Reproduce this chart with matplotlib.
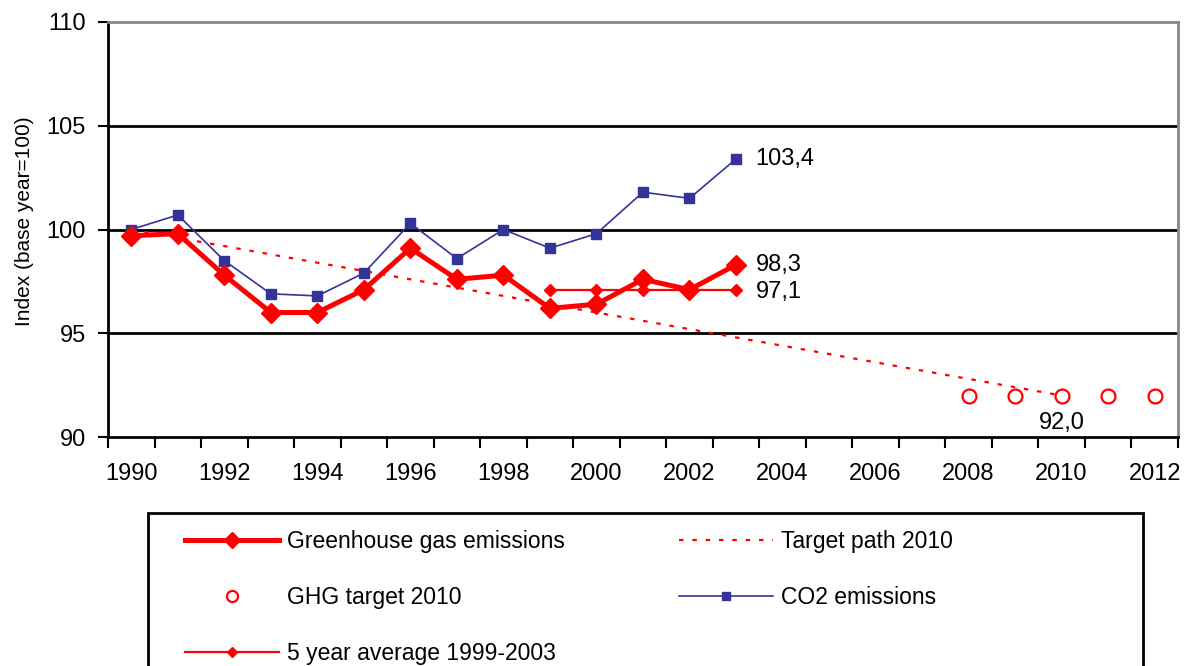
import matplotlib.pyplot as plt
from matplotlib.patches import Rectangle
from matplotlib.ticker import FixedLocator, NullFormatter

plt.rcParams['font.family'] = ['Liberation Sans', 'DejaVu Sans']

# years shown on the category axis
years = list(range(1990, 2013))
year_labels = [str(y) for y in range(1990, 2013, 2)]

# index values (base year = 100)
ghg_years = list(range(1990, 2004))
ghg = [99.7, 99.8, 97.8, 96.0, 96.0, 97.1, 99.1, 97.6, 97.8, 96.2, 96.4, 97.6, 97.1, 98.3]

co2_years = list(range(1990, 2004))
co2 = [100.0, 100.7, 98.5, 96.9, 96.8, 97.9, 100.3, 98.6, 100.0, 99.1, 99.8, 101.8, 101.5, 103.4]

avg_years = [1999, 2000, 2001, 2002, 2003]
avg5 = [97.1, 97.1, 97.1, 97.1, 97.1]

path_years = [1990, 2010]
path = [100.0, 92.0]

target_years = [2008, 2009, 2010, 2011, 2012]
target = [92.0, 92.0, 92.0, 92.0, 92.0]

red = '#ff0000'
blue = '#333399'


def pos(ys):
    return [y - 1990 for y in ys]


fig = plt.figure(figsize=(11.91, 6.66), dpi=100)
ax = fig.add_axes([0.0907, 0.3438, 0.8983, 0.6232])

ax.plot(pos(path_years), path, color=red, lw=1.6, ls=(0, (2, 4)), label='Target path 2010', zorder=3)
ax.plot(pos(co2_years), co2, color=blue, lw=1.2, marker='s', ms=7, label='CO2 emissions', zorder=4)
ax.plot(pos(avg_years), avg5, color=red, lw=1.6, marker='D', ms=6, label='5 year average 1999-2003', zorder=5)
ax.plot(pos(ghg_years), ghg, color=red, lw=3.6, marker='D', ms=10, label='Greenhouse gas emissions', zorder=6)
ax.plot(pos(target_years), target, ls='none', marker='o', ms=10, mfc='white', mec=red, mew=1.6,
        label='GHG target 2010', zorder=5)

ax.annotate('103,4', (pos([2003])[0], co2[-1]), xytext=(14, 0), textcoords='offset points',
            va='center', ha='left', fontsize=17)
ax.annotate('98,3', (pos([2003])[0], ghg[-1]), xytext=(14, 0), textcoords='offset points',
            va='center', ha='left', fontsize=17)
ax.annotate('97,1', (pos([2003])[0], avg5[-1]), xytext=(14, -2), textcoords='offset points',
            va='center', ha='left', fontsize=17)
ax.annotate('92,0', (pos([2010])[0], target[2]), xytext=(0, -20), textcoords='offset points',
            va='center', ha='center', fontsize=17)

ax.set_xlim(-0.5, 22.5)
ax.set_ylim(90, 110)
ax.set_yticks([90, 95, 100, 105, 110])
ax.tick_params(axis='y', labelsize=17, length=7, width=1.5, direction='out', pad=9)

ax.xaxis.set_major_locator(FixedLocator([i + 0.5 for i in range(-1, 23)]))
ax.xaxis.set_major_formatter(NullFormatter())
ax.set_xticks(list(range(0, 23, 2)), labels=year_labels, minor=True)
ax.tick_params(axis='x', which='major', length=8, width=1.5, direction='out')
ax.tick_params(axis='x', which='minor', length=0, labelsize=17, pad=19)

ax.yaxis.grid(True, color='black', lw=2)
gl = ax.get_ygridlines()
gl[0].set_visible(False)
gl[-1].set_visible(False)
ax.set_axisbelow(True)

for s in ['left', 'bottom']:
    ax.spines[s].set_color('black')
    ax.spines[s].set_linewidth(2)
for s in ['top', 'right']:
    ax.spines[s].set_color('#888888')
    ax.spines[s].set_linewidth(2)

ax.set_ylabel('Index (base year=100)', fontsize=15)
ax.yaxis.set_label_coords(-0.069, 0.52)

# legend frame, running off the bottom of the figure
fig.patches.append(Rectangle((148 / 1191, -0.05), 995 / 1191, 0.05 + 1 - 513 / 666,
                             transform=fig.transFigure, fill=False, ec='black', lw=2))

h, l = ax.get_legend_handles_labels()
order = ['Greenhouse gas emissions', 'GHG target 2010', '5 year average 1999-2003',
         'Target path 2010', 'CO2 emissions']
hh = [h[l.index(k)] for k in order]
leg = fig.legend(hh, order, loc='upper left', ncol=2,
                 bbox_to_anchor=(185 / 1191, 1 - 530 / 666),
                 fontsize=16.5, frameon=False, markerscale=0.8,
                 handlelength=4.1, handletextpad=0.35, labelspacing=1.45, borderpad=0,
                 columnspacing=5.0, borderaxespad=0)

fig.savefig('out.png', dpi=100)
